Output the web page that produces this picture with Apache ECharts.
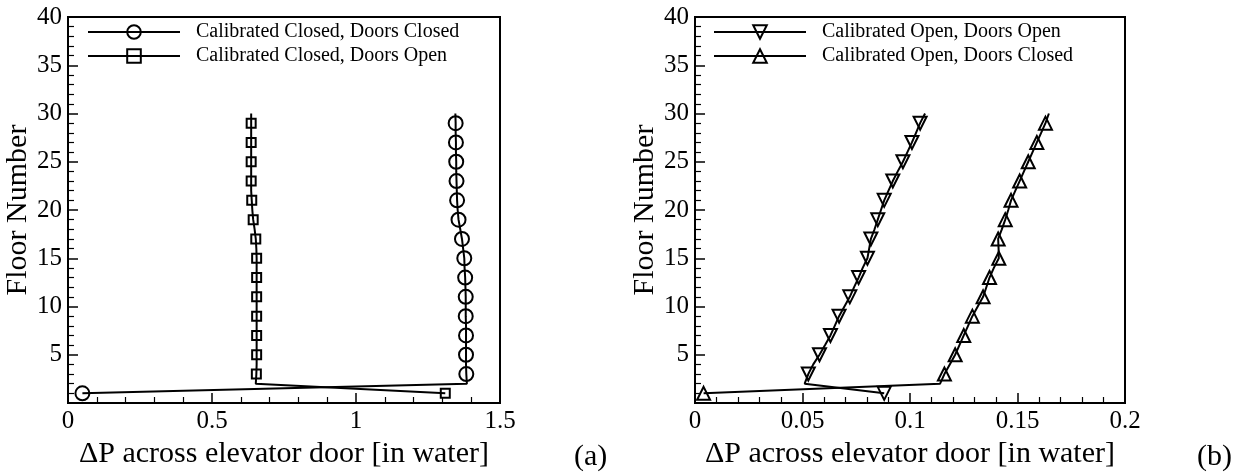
<!DOCTYPE html>
<html>
<head>
<meta charset="utf-8">
<script src="https://cdn.jsdelivr.net/npm/echarts@6/dist/echarts.min.js"></script>
<style>
html,body{margin:0;padding:0;background:#fff;}
#c{width:1243px;height:474px;}
</style>
</head>
<body>
<div id="c"></div>
<script>
// ---- data ----
const floors = [1,2,3,4,5,6,7,8,9,10,11,12,13,14,15,16,17,18,19,20,21,22,23,24,25,26,27,28,29,30];
const closedDoorsClosed = [0.05,1.385,1.383,1.382,1.382,1.382,1.382,1.382,1.381,1.381,1.381,1.380,1.379,1.377,1.376,1.372,1.368,1.362,1.356,1.353,1.351,1.350,1.349,1.348,1.348,1.347,1.347,1.346,1.346,1.345];
const closedDoorsOpen = [1.31,0.652,0.654,0.655,0.655,0.655,0.655,0.655,0.655,0.655,0.655,0.655,0.655,0.655,0.655,0.654,0.652,0.648,0.643,0.640,0.638,0.636,0.636,0.636,0.636,0.636,0.636,0.636,0.636,0.636];
const openDoorsOpen = [0.088,0.051,0.0527,0.055,0.0579,0.0605,0.063,0.065,0.067,0.0695,0.072,0.074,0.0761,0.078,0.0802,0.081,0.0818,0.0835,0.085,0.0865,0.088,0.090,0.092,0.0943,0.0967,0.0988,0.1009,0.1028,0.1047,0.107];
const openDoorsClosed = [0.004,0.114,0.116,0.1185,0.121,0.123,0.125,0.127,0.129,0.1315,0.134,0.1355,0.137,0.139,0.1413,0.1412,0.141,0.1427,0.1443,0.1457,0.147,0.149,0.151,0.153,0.155,0.157,0.159,0.161,0.163,0.1646];
const seriesNames = ['Calibrated Closed, Doors Closed','Calibrated Closed, Doors Open','Calibrated Open, Doors Open','Calibrated Open, Doors Closed'];
const xTitle = 'ΔP across elevator door [in water]';
const yTitle = 'Floor Number';
const panelLabels = ['(a)','(b)'];

const FONT = '"Liberation Serif", "Times New Roman", serif';

function pts(xs){
  return xs.map((x,i)=> i%2===0 ? [x, floors[i]] : {value:[x, floors[i]], symbol:'none'});
}

function xAxisCfg(gi, max, interval){
  return {
    type:'value', gridIndex:gi, min:0, max:max, interval:interval,
    name:xTitle, nameLocation:'middle', nameGap:36,
    nameTextStyle:{fontFamily:FONT, fontSize:30, color:'#000'},
    axisLine:{show:true, onZero:false, lineStyle:{color:'#000', width:2}},
    axisTick:{show:true, inside:true, length:10, lineStyle:{color:'#000', width:1.5}},
    minorTick:{show:true, splitNumber:5, length:6, lineStyle:{color:'#000', width:1.2}},
    axisLabel:{fontFamily:FONT, fontSize:25, color:'#000', margin:6},
    splitLine:{show:false}
  };
}
function yAxisCfg(gi){
  return {
    type:'value', gridIndex:gi, min:0, max:40, interval:5,
    name:yTitle, nameLocation:'middle', nameGap:33, nameRotate:90,
    nameTextStyle:{fontFamily:FONT, fontSize:30, color:'#000'},
    axisLine:{show:true, onZero:false, lineStyle:{color:'#000', width:2}},
    axisTick:{show:true, inside:true, length:10, lineStyle:{color:'#000', width:1.5}},
    minorTick:{show:true, splitNumber:5, length:6, lineStyle:{color:'#000', width:1.2}},
    axisLabel:{fontFamily:FONT, fontSize:25, color:'#000', margin:6, showMinLabel:false,
      formatter:(v)=> v===0 ? '' : String(v)},
    splitLine:{show:false}
  };
}
function lineSeries(name, xs, gi, symbol, size, rotate){
  return {
    type:'line', name:name, xAxisIndex:gi, yAxisIndex:gi,
    data:pts(xs), symbol:symbol, symbolSize:size, symbolRotate:rotate||0,
    showAllSymbol:true,
    lineStyle:{color:'#000', width:2},
    itemStyle:{color:'rgba(0,0,0,0)', borderColor:'#000', borderWidth:2},
    emphasis:{disabled:true}, animation:false, z:3
  };
}
function legendCfg(left, names){
  return {
    orient:'vertical', left:left, top:22, padding:0,
    itemWidth:92, itemHeight:17, itemGap:4,
    data:names,
    textStyle:{fontFamily:FONT, fontSize:20, color:'#000', padding:[0,0,0,11]},
    inactiveColor:'#000', selectedMode:false
  };
}

const chart = echarts.init(document.getElementById('c'), null, {renderer:'canvas'});
chart.setOption({
  backgroundColor:'#fff',
  animation:false,
  grid:[
    {left:68, top:17, width:432, height:393, show:true, borderColor:'#000', borderWidth:2, backgroundColor:'transparent'},
    {left:695, top:17, width:430, height:393, show:true, borderColor:'#000', borderWidth:2, backgroundColor:'transparent'}
  ],
  xAxis:[xAxisCfg(0,1.5,0.5), xAxisCfg(1,0.2,0.05)],
  yAxis:[yAxisCfg(0), yAxisCfg(1)],
  legend:[legendCfg(87,[seriesNames[0],seriesNames[1]]), legendCfg(713,[seriesNames[2],seriesNames[3]])],
  series:[
    lineSeries(seriesNames[0], closedDoorsClosed, 0, 'circle', 14),
    lineSeries(seriesNames[1], closedDoorsOpen, 0, 'rect', 9),
    lineSeries(seriesNames[2], openDoorsOpen, 1, 'triangle', 13, 180),
    lineSeries(seriesNames[3], openDoorsClosed, 1, 'triangle', 13)
  ],
  graphic:[
    {type:'text', left:574, top:442, style:{text:panelLabels[0], font:'30px '+FONT, fill:'#000'}},
    {type:'text', left:1197, top:442, style:{text:panelLabels[1], font:'30px '+FONT, fill:'#000'}}
  ]
});
</script>
</body>
</html>
